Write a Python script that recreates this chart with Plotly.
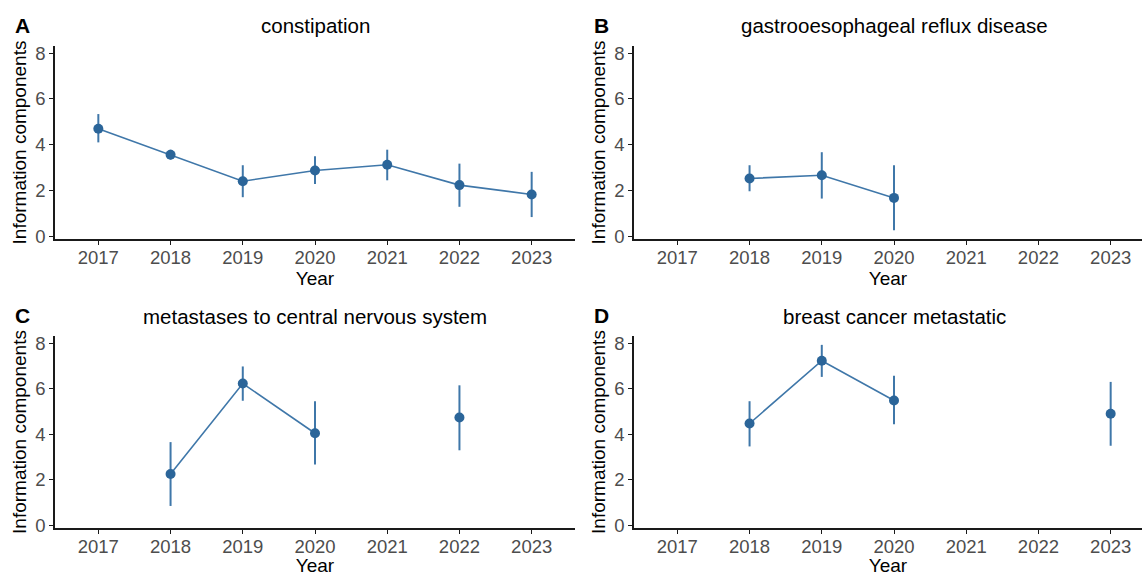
import plotly.graph_objects as go

years = [2017, 2018, 2019, 2020, 2021, 2022, 2023]

panel_titles = ["constipation", "gastrooesophageal reflux disease",
                "metastases to central nervous system", "breast cancer metastatic"]
panel_letters = ["A", "B", "C", "D"]

# Information component (IC) with lower / upper interval bounds; None = no data
ic_a = [4.70, 3.56, 2.40, 2.87, 3.12, 2.23, 1.82]
lo_a = [4.10, 3.35, 1.70, 2.28, 2.44, 1.28, 0.83]
hi_a = [5.34, 3.78, 3.10, 3.49, 3.78, 3.17, 2.81]

ic_b = [None, 2.52, 2.66, 1.67, None, None, None]
lo_b = [None, 1.96, 1.64, 0.25, None, None, None]
hi_b = [None, 3.10, 3.67, 3.10, None, None, None]

ic_c = [None, 2.25, 6.23, 4.04, None, 4.73, None]
lo_c = [None, 0.84, 5.47, 2.66, None, 3.29, None]
hi_c = [None, 3.65, 6.98, 5.45, None, 6.15, None]

ic_d = [None, 4.47, 7.23, 5.48, None, None, 4.90]
lo_d = [None, 3.46, 6.52, 4.44, None, None, 3.49]
hi_d = [None, 5.45, 7.93, 6.57, None, None, 6.30]

panels = [(ic_a, lo_a, hi_a), (ic_b, lo_b, hi_b), (ic_c, lo_c, hi_c), (ic_d, lo_d, hi_d)]

W, H = 1142, 576
FONT = "Liberation Sans, Arial, sans-serif"
LINE_COL = "#3F77A9"
PT_COL = "#2B6599"
AX_COL = "#1A1A1A"
TICK_COL = "#4D4D4D"

def px_x(p):
    return p / W

def px_y(p):
    return 1 - p / H

# pixel layout of the four panels
x_doms = {0: [px_x(55), px_x(575)], 1: [px_x(634), 1.0]}
y_doms = {0: [px_y(239), px_y(46)], 1: [px_y(528), px_y(336)]}
x_ranges = {0: [2016.4, 2023.6], 1: [2016.4, 2016.4 + (W - 634) / (520 / 7.2)]}
y_range = [-0.13, 8.32]

fig = go.Figure()
for i, (ic, lo, hi) in enumerate(panels):
    k = i + 1
    xa = "x" if k == 1 else f"x{k}"
    ya = "y" if k == 1 else f"y{k}"
    err_plus = [None if v is None else h - v for v, h in zip(ic, hi)]
    err_minus = [None if v is None else v - l for v, l in zip(ic, lo)]
    fig.add_trace(go.Scatter(
        x=years, y=ic, mode="lines", xaxis=xa, yaxis=ya,
        line=dict(color=LINE_COL, width=1.6), connectgaps=False,
        showlegend=False, hoverinfo="skip"))
    fig.add_trace(go.Scatter(
        x=years, y=ic, mode="markers", xaxis=xa, yaxis=ya,
        marker=dict(color=PT_COL, size=10, line=dict(width=0)),
        error_y=dict(type="data", array=err_plus, arrayminus=err_minus,
                     symmetric=False, color=LINE_COL, thickness=2, width=0),
        showlegend=False))

layout = dict(
    width=W, height=H, margin=dict(l=0, r=0, t=0, b=0),
    paper_bgcolor="white", plot_bgcolor="white",
    font=dict(family=FONT, color="black"),
    annotations=[],
)

for i in range(4):
    k = i + 1
    col, row = i % 2, i // 2
    xname = "xaxis" if k == 1 else f"xaxis{k}"
    yname = "yaxis" if k == 1 else f"yaxis{k}"
    xa = "x" if k == 1 else f"x{k}"
    ya = "y" if k == 1 else f"y{k}"
    layout[xname] = dict(
        domain=x_doms[col], range=x_ranges[col], anchor=ya,
        tickvals=years, ticktext=[str(y) for y in years],
        showline=True, linecolor=AX_COL, linewidth=1.5, mirror=False,
        ticks="outside", ticklen=4, tickwidth=1.3, tickcolor=AX_COL,
        ticklabelstandoff=-3,
        tickfont=dict(size=18.5, color=TICK_COL, family=FONT),
        showgrid=False, zeroline=False, fixedrange=True,
        title=dict(text="Year", font=dict(size=19, color="black", family=FONT), standoff=2),
        automargin=False,
    )
    layout[yname] = dict(
        domain=y_doms[row], range=y_range, anchor=xa,
        tickvals=[0, 2, 4, 6, 8],
        showline=True, linecolor=AX_COL, linewidth=1.5, mirror=False,
        ticks="outside", ticklen=4, tickwidth=1.3, tickcolor=AX_COL,
        tickfont=dict(size=18.5, color=TICK_COL, family=FONT),
        showgrid=False, zeroline=False, fixedrange=True,
        title=dict(text="Information components", font=dict(size=19, color="black", family=FONT), standoff=4),
        automargin=False,
    )
    # panel title
    cx = (x_doms[col][0] * W + (x_doms[col][0] * W + 520)) / 2 / W
    ty = [26, 316][row]
    layout["annotations"].append(dict(
        text=panel_titles[i], x=cx, y=px_y(ty), xref="paper", yref="paper",
        xanchor="center", yanchor="middle", showarrow=False,
        font=dict(size=20.5, color="black", family=FONT)))
    # panel letter
    lx = [13, 592][col]
    ly = [25, 315][row]
    layout["annotations"].append(dict(
        text="<b>" + panel_letters[i] + "</b>", x=px_x(lx), y=px_y(ly),
        xref="paper", yref="paper", xanchor="left", yanchor="middle",
        showarrow=False, font=dict(size=21, color="black", family=FONT)))

fig.update_layout(**layout)
fig.write_html("out.html", config={"displayModeBar": False},
               post_script="document.body.style.margin='0';document.body.style.overflow='hidden';")
